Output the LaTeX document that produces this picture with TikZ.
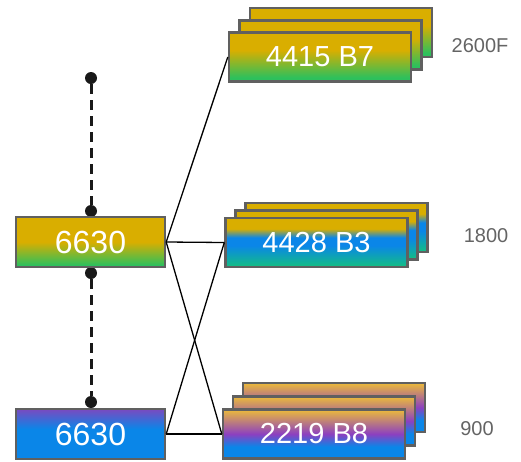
\documentclass[tikz,border=0pt]{standalone}
\usepackage{fontspec}
\setmainfont{Liberation Sans}
\definecolor{gold}{RGB}{217,174,0}
\definecolor{gold2}{RGB}{236,186,58}
\definecolor{grn}{RGB}{45,192,92}
\definecolor{teal}{RGB}{18,186,138}
\definecolor{blu}{RGB}{10,134,232}
\definecolor{purp}{RGB}{140,64,192}
\definecolor{purp2}{RGB}{122,74,192}
\definecolor{edge}{RGB}{96,96,96}
\definecolor{lbl}{RGB}{100,100,100}
\pgfdeclareverticalshading{leftgg}{100bp}{color(0bp)=(grn); color(27bp)=(grn); color(50bp)=(gold); color(100bp)=(gold)}
\pgfdeclareverticalshading{rightgg}{100bp}{color(0bp)=(grn); color(29bp)=(grn); color(57bp)=(gold); color(100bp)=(gold)}
\pgfdeclareverticalshading{gbt}{100bp}{color(0bp)=(teal); color(27bp)=(teal); color(47bp)=(blu); color(55bp)=(blu); color(64bp)=(gold); color(100bp)=(gold)}
\pgfdeclareverticalshading{gpb}{100bp}{color(0bp)=(blu); color(37bp)=(blu); color(50bp)=(purp); color(75bp)=(gold2); color(100bp)=(gold2)}
\pgfdeclareverticalshading{pb}{100bp}{color(0bp)=(blu); color(55bp)=(blu); color(75bp)=(purp2); color(100bp)=(purp2)}
\tikzset{
  card/.style={draw=edge, line width=2.4pt, rectangle, inner sep=0pt, text=white},
  lcard/.style={card, minimum width=149pt, minimum height=50pt, font=\fontsize{32}{36}\selectfont},
  rcard/.style={card, minimum width=182pt, minimum height=49pt, font=\fontsize{29}{33}\selectfont},
  side/.style={text=lbl, font=\fontsize{20}{24}\selectfont, inner sep=0pt},
  link/.style={draw=black, line width=1.3pt},
  dashlink/.style={draw=black!90, line width=3pt, dash pattern=on 10pt off 6pt},
  dot/.style={circle, fill=black!90, inner sep=0pt, minimum size=12pt}
}
\begin{document}
\begin{tikzpicture}[x=1pt, y=-1pt]
\useasboundingbox (0,0) rectangle (521,461);
% dashed connections
\node[dot] (d1) at (91,78) {};
\node[dot] (d2) at (91,211) {};
\node[dot] (d3) at (91,273) {};
\node[dot] (d4) at (91,402) {};
\draw[dashlink] (d1) -- (d2);
\draw[dashlink] (d3) -- (d4);
% left boxes
\node[lcard, shading=leftgg] (l1) at (90.5,242) {6630};
\node[lcard, shading=pb] (l2) at (90.5,434) {6630};
% top stack
\node[rcard, shading=rightgg] (tb) at (341,32.5) {};
\node[rcard, shading=rightgg] (tm) at (330.5,45) {};
\node[rcard, shading=rightgg] (tf) at (320,57) {4415 B7};
% middle stack
\node[rcard, shading=gbt] (mb) at (336.5,227.5) {};
\node[rcard, shading=gbt] (mm) at (326.5,235) {};
\node[rcard, shading=gbt] (mf) at (316.5,242.5) {4428 B3};
% bottom stack
\node[rcard, shading=gpb] (bb) at (334,407.5) {};
\node[rcard, shading=gpb] (bm) at (324,421) {};
\node[rcard, shading=gpb] (bf) at (314,434) {2219 B8};
% links
\draw[link] (l1.east) -- (tf.west);
\draw[link] (l1.east) -- (mf.west);
\draw[link] (l1.east) -- (bf.west);
\draw[link] (l2.east) -- (mf.west);
\draw[link] (l2.east) -- (bf.west);
% side labels
\node[side] (s1) at (480,46) {2600F};
\node[side] (s2) at (486,236) {1800};
\node[side] (s3) at (477,429) {900};
\end{tikzpicture}
\end{document}
